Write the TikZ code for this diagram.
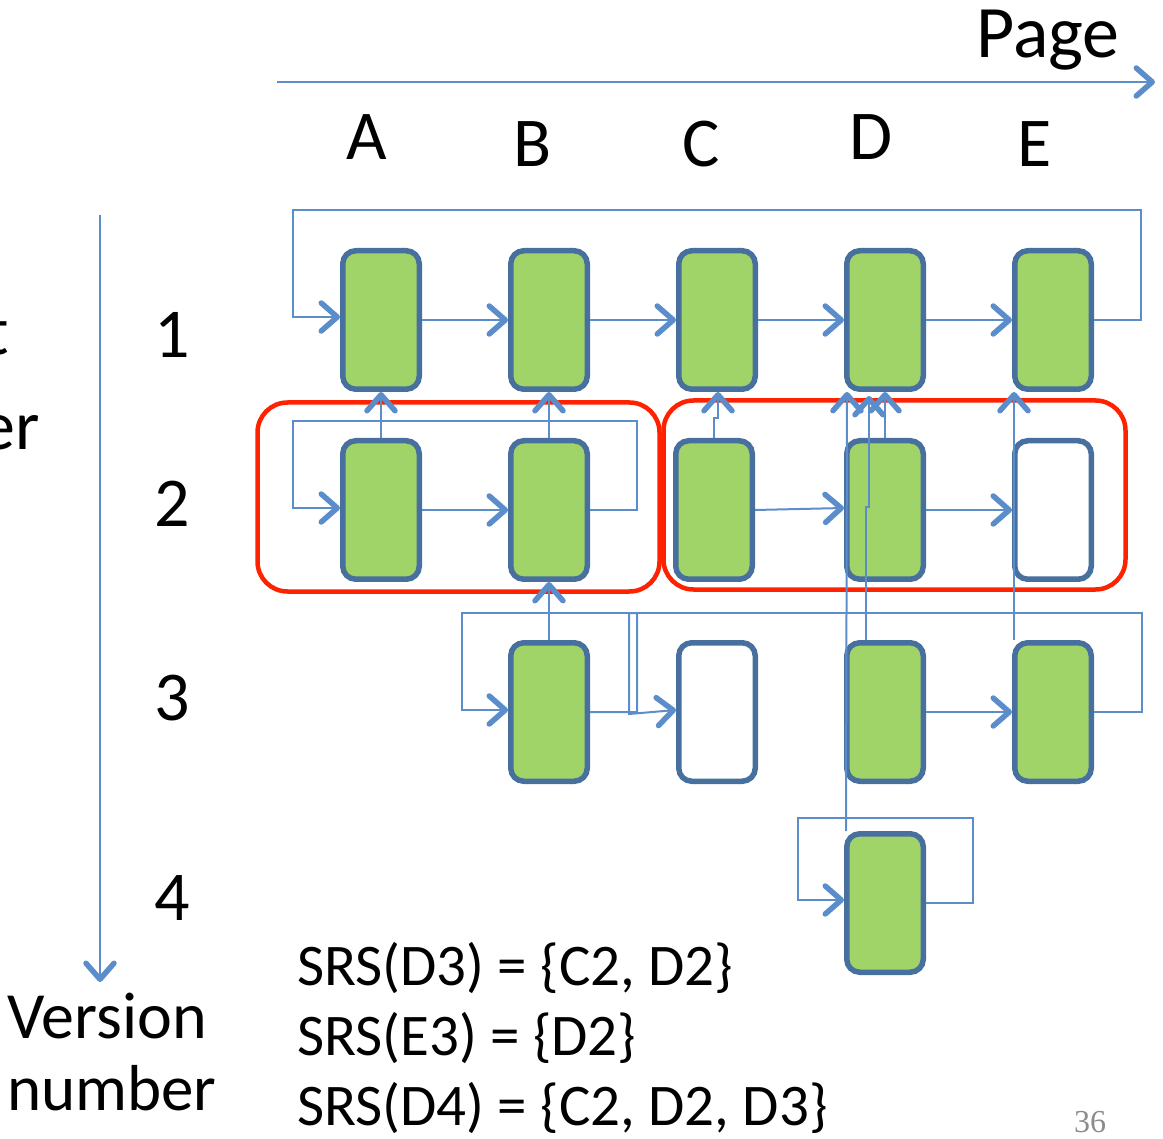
\documentclass[tikz,border=0pt]{standalone}
\usepackage{fontspec}
\setmainfont{Carlito}
\newfontfamily\pagenumfont{Liberation Serif}
\usetikzlibrary{arrows.meta}
\definecolor{boxfill}{HTML}{A0D468}
\definecolor{boxline}{HTML}{47709E}
\definecolor{cblue}{HTML}{5B8DCA}
\definecolor{redline}{HTML}{FF2200}
\definecolor{pnum}{HTML}{8C8C8C}
\begin{document}
\begin{tikzpicture}[x=1pt,y=-1pt,
  pagebox/.style={draw=boxline, line width=5.5pt, fill=boxfill, rounded corners=13pt,
    minimum width=76.5pt, minimum height=138.5pt, inner sep=0pt},
  emptybox/.style={pagebox, fill=white},
  groupbox/.style={draw=redline, line width=4.5pt, rounded corners=30pt, inner sep=0pt},
  conn/.style={cblue, line width=2pt, -{Straight Barb[length=16pt,width=28pt,line width=5.5pt,round]}},
  lbl/.style={font=\fontsize{70}{84}\selectfont, inner sep=0pt, anchor=base},
  srs/.style={font=\fontsize{59}{70}\selectfont, inner sep=0pt, anchor=base west},
]
\useasboundingbox (0,0) rectangle (1163,1139);

% group frames
\node[groupbox, minimum width=402pt, minimum height=189pt] (g1) at (458.5,497) {};
\node[groupbox, minimum width=462pt, minimum height=189pt] (g2) at (894.5,495) {};

% pages
\node[pagebox] (A1) at (381,320) {};
\node[pagebox] (B1) at (549,320) {};
\node[pagebox] (C1) at (717,320) {};
\node[pagebox] (D1) at (885,320) {};
\node[pagebox] (E1) at (1053,320) {};
\node[pagebox] (A2) at (381,510) {};
\node[pagebox] (B2) at (549,510) {};
\node[pagebox] (C2) at (714,510) {};
\node[pagebox] (D2) at (885,510) {};
\node[emptybox] (E2) at (1053,510) {};
\node[pagebox] (B3) at (549,712) {};
\node[emptybox] (C3) at (717,712) {};
\node[pagebox] (D3) at (885,712) {};
\node[pagebox] (E3) at (1053,712) {};
\node[pagebox] (D4) at (885,903) {};

% labels
\node[lbl, font=\fontsize{74}{88}\selectfont] (page) at (1048,58) {Page};
\node[lbl] (la) at (367,160) {A};
\node[lbl] (lb) at (533,167) {B};
\node[lbl] (lc) at (701,167) {C};
\node[lbl] (ld) at (871,160) {D};
\node[lbl] (le) at (1035,167) {E};
\node[lbl] (n1) at (172,358) {1};
\node[lbl] (n2) at (172,527) {2};
\node[lbl] (n3) at (172,720) {3};
\node[lbl] (n4) at (172,920) {4};
\node[lbl, font=\fontsize{66}{80}\selectfont] (ver) at (107,1038) {Version};
\node[lbl, font=\fontsize{65}{78}\selectfont] (num) at (112,1110) {number};
\node[lbl, anchor=base east] (lt1) at (9,355) {t};
\node[lbl, anchor=base east] (lt2) at (40,450) {er};
\node[srs] (s1) at (297,985) {SRS(D3) = \{C2, D2\}};
\node[srs] (s2) at (297,1055) {SRS(E3) = \{D2\}};
\node[srs] (s3) at (297,1125) {SRS(D4) = \{C2, D2, D3\}};
\node[lbl, font=\pagenumfont\fontsize{32}{38}\selectfont, text=pnum] (pg) at (1090,1132) {36};

% axes
\coordinate (ax0) at (277,82);
\coordinate (ax1) at (1155,82);
\coordinate (ay0) at (100,215);
\coordinate (ay1) at (100,982);
\draw[conn] (ax0) -- (ax1);
\draw[conn] (ay0) -- (ay1);

% row 1
\draw[conn] (A1) -- (B1);
\draw[conn] (B1) -- (C1);
\draw[conn] (C1) -- (D1);
\draw[conn] (D1) -- (E1);
\draw[conn] (E1.east) -- (1141,320) |- (293,210) |- ([yshift=3pt]A1.west);

% row 2
\draw[conn] (A2) -- (B2);
\draw[conn] (B2.east) -- (637,510) |- (293,421) |- ([yshift=2pt]A2.west);
\draw[conn] (C2.east) -- ([yshift=2pt]D2.west);
\draw[conn] (D2) -- (E2);

% row 3
\draw[conn] (B3.east) -- (637,712) -- (637,613) -- (629,613) -- (629,714) -- ([yshift=2pt]C3.west);
\draw[conn] (D3) -- (E3);
\draw[conn] (E3.east) -- (1142,712) |- (462,613) |- ([yshift=2pt]B3.west);

% row 4
\draw[conn] (D4.east) -- (973,903) |- (798,818) |- ([yshift=3pt]D4.west);

% version pointers
\draw[conn] (A2.north) -- (A1.south);
\draw[conn] (B2.north) -- (B1.south);
\draw[conn] (B3.north) -- (B2.south);
\draw[conn] (C2.north) -- ++(0,-20) -| ([xshift=1pt]C1.south);
\draw[conn] (D2.north) -- (D1.south);
\draw[conn] ([xshift=-19pt]D3.north) |- ([xshift=-16pt,yshift=3pt]D2.center) -- ([xshift=-16pt,yshift=-4pt]D1.south);
\draw[conn] ([xshift=-39pt]D4.north) -- ([xshift=-38pt]D1.south);
\draw[conn] ([xshift=-39pt]E3.north) -- ([xshift=-39pt]E1.south);
\end{tikzpicture}
\end{document}
